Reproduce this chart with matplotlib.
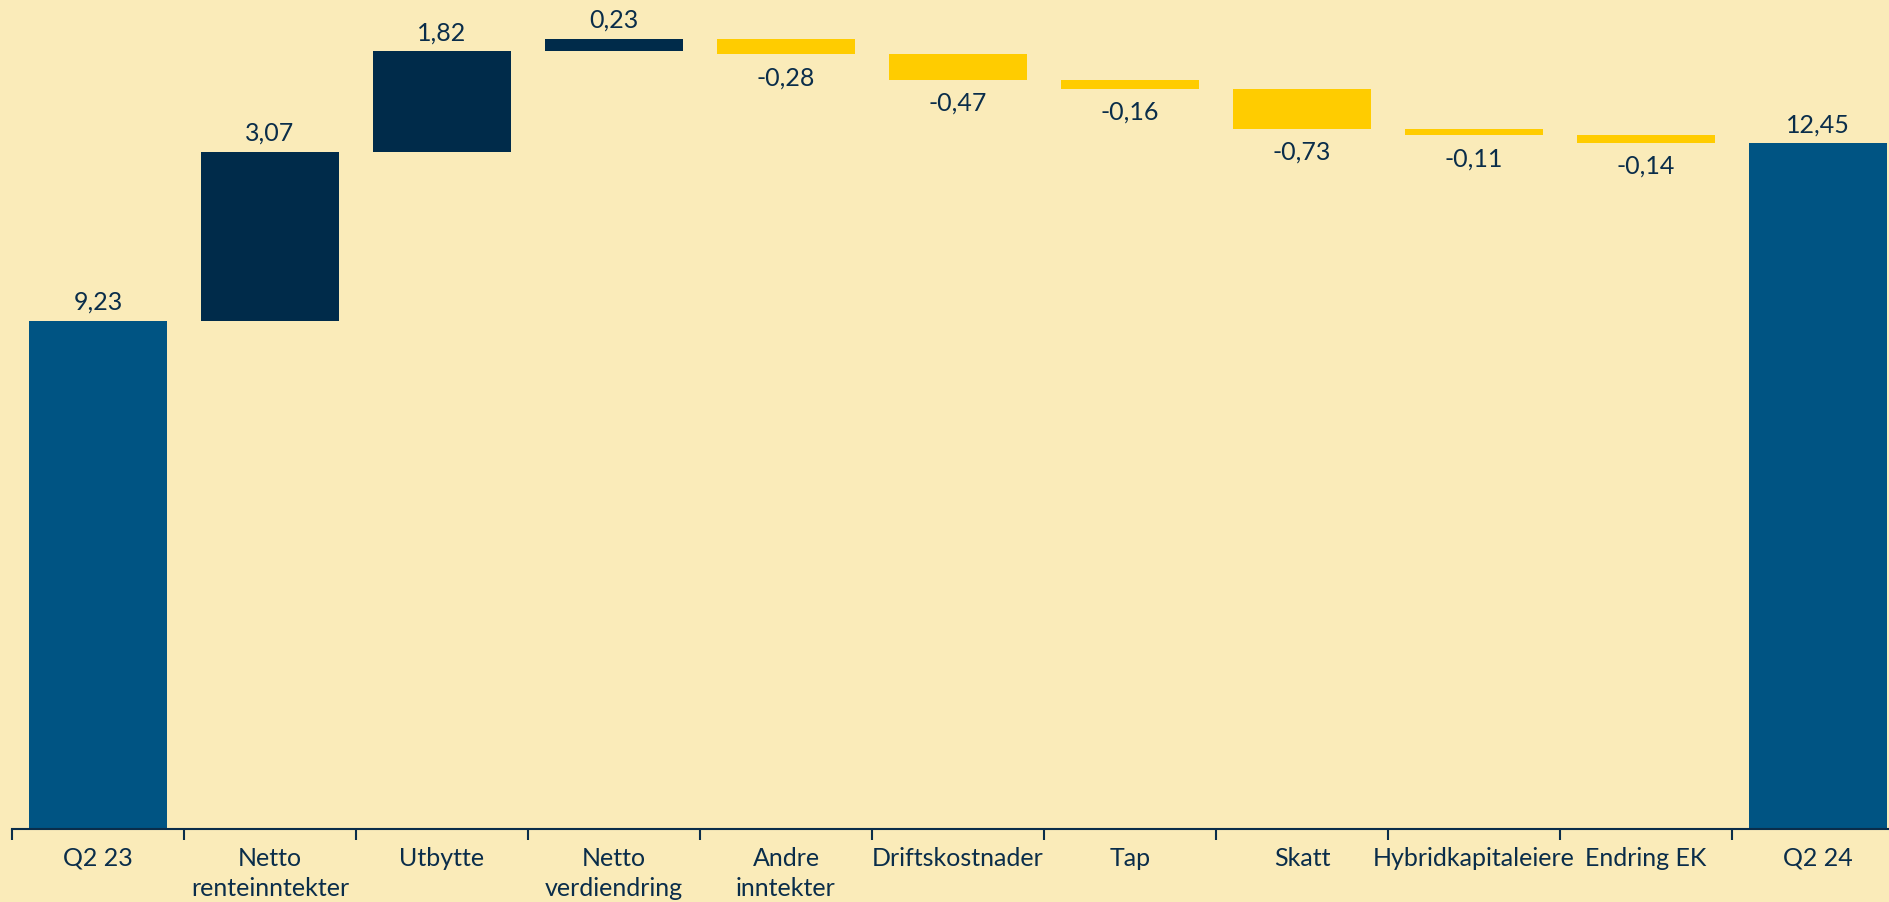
import matplotlib
matplotlib.use("Agg")
import matplotlib.pyplot as plt
import numpy as np

categories = ["Q2 23", "Netto\nrenteinntekter", "Utbytte", "Netto\nverdiendring",
              "Andre\ninntekter", "Driftskostnader", "Tap", "Skatt",
              "Hybridkapitaleiere", "Endring EK", "Q2 24"]
changes = [9.23, 3.07, 1.82, 0.23, -0.28, -0.47, -0.16, -0.73, -0.11, -0.14, 12.45]
labels = ["9,23", "3,07", "1,82", "0,23", "-0,28", "-0,47", "-0,16", "-0,73", "-0,11", "-0,14", "12,45"]
is_total = [True, False, False, False, False, False, False, False, False, False, True]

BG = "#FAEBB9"
TOTAL = "#005483"
POS = "#002B4A"
NEG = "#FFCC00"
TXT = "#0A2D4A"

plt.rcParams['font.family'] = ['Lato', 'DejaVu Sans']

fig = plt.figure(figsize=(18.9, 9.03), dpi=100)
fig.patch.set_facecolor(BG)
ax = fig.add_axes([12/1890, 73/903, 1892/1890, 830/903])
ax.set_facecolor(BG)

x = np.arange(len(categories))
running = 0.0
bottoms, heights, colors = [], [], []
for v, tot in zip(changes, is_total):
    if tot:
        bottoms.append(0.0); heights.append(v); colors.append(TOTAL)
        running = v
    else:
        if v >= 0:
            bottoms.append(running); heights.append(v); colors.append(POS)
        else:
            bottoms.append(running + v); heights.append(-v); colors.append(NEG)
        running += v

ax.bar(x, heights, bottom=bottoms, width=0.8, color=colors, edgecolor="none")

for xi, v, tot, b, h, lab in zip(x, changes, is_total, bottoms, heights, labels):
    if tot or v >= 0:
        ax.annotate(lab, (xi, b + h), xytext=(0, 8), textcoords="offset pixels",
                    ha="center", va="bottom", fontsize=18, color=TXT)
    else:
        ax.annotate(lab, (xi, b), xytext=(0, -11), textcoords="offset pixels",
                    ha="center", va="top", fontsize=18, color=TXT)

ax.set_xlim(-0.5, len(categories) - 0.5)
ax.set_ylim(0, 830/55.07)

for s in ["top", "right", "left"]:
    ax.spines[s].set_visible(False)
ax.spines["bottom"].set_color(TXT)
ax.spines["bottom"].set_linewidth(1.5)
ax.set_yticks([])

ax.set_xticks(np.arange(-0.5, len(categories), 1.0))
ax.set_xticklabels([])
ax.tick_params(axis="x", which="major", length=8, width=1.5, color=TXT)
ax.set_xticks(x, minor=True)
ax.set_xticklabels(categories, minor=True, fontsize=18, color=TXT, linespacing=1.4)
ax.tick_params(axis="x", which="minor", length=0, pad=12)

fig.savefig("out.png", dpi=100, facecolor=BG)
